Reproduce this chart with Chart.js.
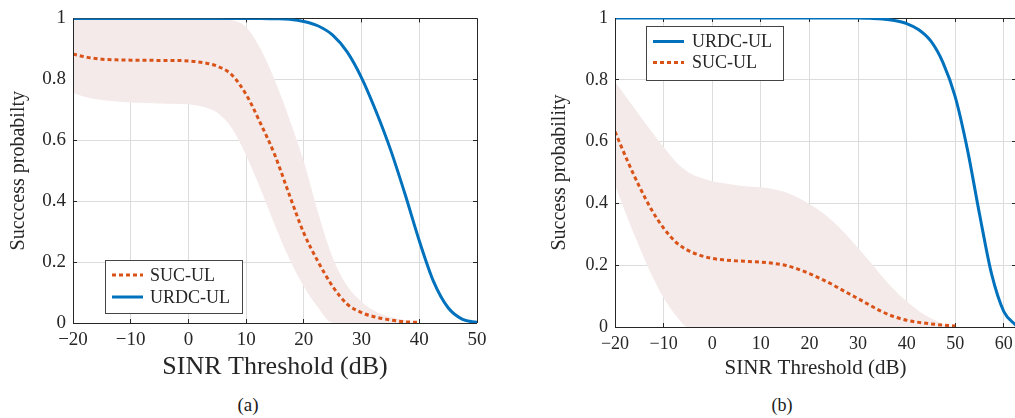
<!DOCTYPE html>
<html>
<head>
<meta charset="utf-8">
<script src="https://cdn.jsdelivr.net/npm/chart.js@4"></script>
<style>
  html, body { margin: 0; padding: 0; background: #fff; }
  body { width: 1015px; height: 418px; overflow: hidden; position: relative; }
  canvas { position: absolute; top: 0; }
  #chartA { left: 0; width: 495px; height: 390px; }
  #chartB { left: 520px; width: 520px; height: 390px; }
  .caption { position: absolute; font-family: 'Liberation Serif', serif; color: #1a1a1a; transform: translate(-50%, -50%); }
</style>
</head>
<body>
<canvas id="chartA" width="495" height="390"></canvas>
<canvas id="chartB" width="520" height="390"></canvas>
<div class="caption" style="left:248px; top:405px; font-size:19px">(a)</div>
<div class="caption" style="left:782px; top:405px; font-size:18px">(b)</div>
<script>
'use strict';

// (a) SINR threshold in dB
const xUrdcA = [-20, -17.5, -15, -12.5, -10, -7.5, -5, -2.5, 0, 2.5, 5, 7.5, 10, 12.5, 15, 17.5, 20, 22.5, 25, 27.5, 30, 32.5, 35, 37.5, 40, 42.5, 45, 47.5, 50];
const urdcA = [1, 1, 1, 1, 1, 1, 1, 1, 1, 1, 1, 1, 1, 1, 0.999, 0.997, 0.99, 0.975, 0.945, 0.89, 0.805, 0.695, 0.57, 0.425, 0.27, 0.135, 0.05, 0.012, 0.002];
const xSucA = [-20, -17.5, -15, -12.5, -10, -7.5, -5, -2.5, 0, 2.5, 5, 7.5, 10, 12.5, 15, 17.5, 20, 22.5, 25, 27.5, 30, 32.5, 35, 37.5, 40];
const sucA = [0.883, 0.872, 0.866, 0.864, 0.863, 0.863, 0.862, 0.862, 0.86, 0.855, 0.843, 0.815, 0.75, 0.655, 0.55, 0.42, 0.295, 0.20, 0.12, 0.062, 0.034, 0.019, 0.01, 0.004, 0.002];
const bandHighA = [1, 1, 1, 1, 1, 1, 1, 1, 1, 1, 1, 0.995, 0.972, 0.90, 0.795, 0.67, 0.53, 0.36, 0.214, 0.122, 0.07, 0.037, 0.02, 0.01, 0];
const bandLowA = [0.755, 0.74, 0.732, 0.727, 0.724, 0.722, 0.721, 0.72, 0.718, 0.71, 0.69, 0.64, 0.55, 0.44, 0.32, 0.21, 0.12, 0.05, 0, 0, 0, 0, 0, 0, 0];

// (b)
const xUrdcB = [-20, -17.5, -15, -12.5, -10, -7.5, -5, -2.5, 0, 2.5, 5, 7.5, 10, 12.5, 15, 17.5, 20, 22.5, 25, 27.5, 30, 32.5, 35, 37.5, 40, 42.5, 45, 47.5, 50, 52.5, 55, 57.5, 60, 62.5];
const urdcB = [1, 1, 1, 1, 1, 1, 1, 1, 1, 1, 1, 1, 1, 1, 1, 1, 1, 1, 1, 1, 1, 0.999, 0.997, 0.992, 0.982, 0.962, 0.925, 0.855, 0.745, 0.575, 0.365, 0.17, 0.05, 0.005];
const xSucB = [-20, -17.5, -15, -12.5, -10, -7.5, -5, -2.5, 0, 2.5, 5, 7.5, 10, 12.5, 15, 17.5, 20, 22.5, 25, 27.5, 30, 32.5, 35, 37.5, 40, 42.5, 45, 47.5, 50];
const sucB = [0.632, 0.54, 0.455, 0.38, 0.32, 0.275, 0.248, 0.232, 0.222, 0.217, 0.214, 0.212, 0.21, 0.206, 0.2, 0.188, 0.173, 0.155, 0.135, 0.113, 0.092, 0.07, 0.049, 0.033, 0.022, 0.015, 0.01, 0.006, 0.003];
const bandHighB = [0.794, 0.74, 0.686, 0.633, 0.583, 0.535, 0.502, 0.484, 0.472, 0.465, 0.459, 0.455, 0.452, 0.446, 0.437, 0.42, 0.398, 0.372, 0.34, 0.30, 0.256, 0.21, 0.163, 0.12, 0.083, 0.052, 0.028, 0.01, 0];
const bandLowB = [0.46, 0.355, 0.26, 0.17, 0.095, 0.038, 0, 0, 0, 0, 0, 0, 0, 0, 0, 0, 0, 0, 0, 0, 0, 0, 0, 0, 0, 0, 0, 0, 0];

const BLUE = '#0072BD';
const ORANGE = '#D95319';
const BAND = '#F5EAEA';
const INK = '#262626';
const GRID = '#dcdcdc';
const SERIF = 'Liberation Serif';
const SUC_DASH = [4, 3];

Chart.defaults.font.family = SERIF;
Chart.defaults.color = INK;

function toPoints(xs, ys) {
  return xs.map((x, i) => ({x: x, y: ys[i]}));
}

function px(v) {
  return Math.round(v - 0.5) + 0.5;
}

// box spines + inner tick marks, like MATLAB "box on"
const boxPlugin = {
  id: 'box',
  beforeDatasetsDraw(chart) {
    const {ctx, chartArea: a, scales} = chart;
    ctx.save();
    ctx.strokeStyle = INK;
    ctx.lineWidth = 1;
    ctx.beginPath();
    ctx.moveTo(a.left, px(a.top));
    ctx.lineTo(a.right, px(a.top));
    ctx.moveTo(px(a.right), a.top);
    ctx.lineTo(px(a.right), a.bottom);
    scales.x.ticks.forEach(t => {
      if (Math.abs(t.value % 10) > 1e-6) return;
      const x = px(scales.x.getPixelForValue(t.value));
      ctx.moveTo(x, a.top);
      ctx.lineTo(x, a.top + 4);
      ctx.moveTo(x, a.bottom);
      ctx.lineTo(x, a.bottom - 4);
    });
    scales.y.ticks.forEach(t => {
      const y = px(scales.y.getPixelForValue(t.value));
      ctx.moveTo(a.left, y);
      ctx.lineTo(a.left + 4, y);
      ctx.moveTo(a.right, y);
      ctx.lineTo(a.right - 4, y);
    });
    ctx.stroke();
    ctx.restore();
  },
  afterDatasetsDraw(chart) {
    const {ctx, chartArea: a} = chart;
    ctx.save();
    ctx.strokeStyle = INK;
    ctx.lineWidth = 1;
    ctx.beginPath();
    ctx.moveTo(px(a.left), a.top);
    ctx.lineTo(px(a.left), a.bottom);
    ctx.moveTo(a.left, px(a.bottom));
    ctx.lineTo(a.right, px(a.bottom));
    ctx.stroke();
    ctx.restore();
  }
};

const boxLegendPlugin = {
  id: 'boxLegend',
  afterDraw(chart, args, opts) {
    const ctx = chart.ctx;
    ctx.save();
    ctx.fillStyle = '#fff';
    ctx.fillRect(opts.x, opts.y, opts.w, opts.h);
    ctx.strokeStyle = '#444';
    ctx.lineWidth = 1;
    ctx.strokeRect(opts.x + 0.5, opts.y + 0.5, opts.w, opts.h);
    opts.items.forEach((item, i) => {
      const y = opts.rows[i];
      ctx.strokeStyle = item.color;
      ctx.lineWidth = 3;
      ctx.setLineDash(item.dash || []);
      ctx.beginPath();
      ctx.moveTo(opts.lineX[0], y);
      ctx.lineTo(opts.lineX[1], y);
      ctx.stroke();
      ctx.setLineDash([]);
      ctx.fillStyle = INK;
      ctx.font = opts.fontSize + 'px "' + SERIF + '"';
      ctx.textBaseline = 'middle';
      ctx.fillText(item.label, opts.textX, y + 1);
    });
    ctx.restore();
  }
};

function makeChart(id, s) {
  const datasets = [
    {label: 'URDC-UL', data: toPoints(s.xUrdc, s.urdc), borderColor: BLUE, borderWidth: 3, pointRadius: 0, fill: false},
    {label: 'SUC-UL', data: toPoints(s.xSuc, s.suc), borderColor: ORANGE, borderWidth: 3, borderDash: SUC_DASH, pointRadius: 0, fill: false},
    {label: 'upper', data: toPoints(s.xSuc, s.bandHigh), borderWidth: 0, borderColor: 'rgba(0,0,0,0)', backgroundColor: BAND, pointRadius: 0, fill: '+1'},
    {label: 'lower', data: toPoints(s.xSuc, s.bandLow), borderWidth: 0, borderColor: 'rgba(0,0,0,0)', pointRadius: 0, fill: false}
  ];
  return new Chart(document.getElementById(id).getContext('2d'), {
    type: 'line',
    data: {datasets: datasets},
    options: {
      responsive: false,
      animation: false,
      events: [],
      layout: {padding: s.padding},
      elements: {line: {cubicInterpolationMode: 'monotone', borderCapStyle: 'butt'}},
      scales: {
        x: {
          type: 'linear',
          min: -20,
          max: s.xMax,
          afterFit: scale => { scale.height = s.xHeight; },
          grid: {color: GRID, drawTicks: false},
          border: {display: false},
          ticks: {
            stepSize: 10,
            includeBounds: false,
            autoSkip: false,
            padding: s.xTickPad,
            maxRotation: 0,
            font: {family: SERIF, size: s.tickSize},
            callback: v => String(v).replace('-', '\u2212')
          },
          title: {display: true, text: 'SINR Threshold (dB)', font: {family: SERIF, size: s.xTitleSize}, padding: {top: 0, bottom: s.xTitlePad}}
        },
        y: {
          min: 0,
          max: 1,
          afterFit: scale => { scale.width = s.yWidth; },
          grid: {color: GRID, drawTicks: false},
          border: {display: false},
          ticks: {
            stepSize: 0.2,
            padding: 7,
            font: {family: SERIF, size: s.tickSize},
            callback: v => String(Math.round(v * 10) / 10)
          },
          title: {display: true, text: s.yTitle, font: {family: SERIF, size: 20}, padding: {top: s.yTitlePad, bottom: 0}}
        }
      },
      plugins: {
        legend: {display: false},
        tooltip: {enabled: false},
        boxLegend: s.legend
      }
    },
    plugins: [boxPlugin, boxLegendPlugin]
  });
}

makeChart('chartA', {
  xUrdc: xUrdcA, urdc: urdcA, xSuc: xSucA, suc: sucA, bandHigh: bandHighA, bandLow: bandLowA,
  xMax: 50,
  padding: {left: 0, top: 15, right: 18, bottom: 0},
  xHeight: 67, yWidth: 73,
  tickSize: 19, xTickPad: 6,
  xTitleSize: 26, xTitlePad: 7,
  yTitle: 'Succcess probabilty', yTitlePad: 7,
  legend: {
    x: 105, y: 260, w: 137, h: 53,
    rows: [275, 297], lineX: [112, 143], textX: 150, fontSize: 18,
    items: [
      {label: 'SUC-UL', color: ORANGE, dash: SUC_DASH},
      {label: 'URDC-UL', color: BLUE}
    ]
  }
});

makeChart('chartB', {
  xUrdc: xUrdcB, urdc: urdcB, xSuc: xSucB, suc: sucB, bandHigh: bandHighB, bandLow: bandLowB,
  xMax: 62.5,
  padding: {left: 0, top: 18, right: 24, bottom: 0},
  xHeight: 63, yWidth: 95,
  tickSize: 18, xTickPad: 6,
  xTitleSize: 21, xTitlePad: 9,
  yTitle: 'Success probability', yTitlePad: 28,
  legend: {
    x: 126, y: 26, w: 137, h: 54,
    rows: [41.5, 62.5], lineX: [133, 164], textX: 172, fontSize: 18,
    items: [
      {label: 'URDC-UL', color: BLUE},
      {label: 'SUC-UL', color: ORANGE, dash: SUC_DASH}
    ]
  }
});
</script>
</body>
</html>
